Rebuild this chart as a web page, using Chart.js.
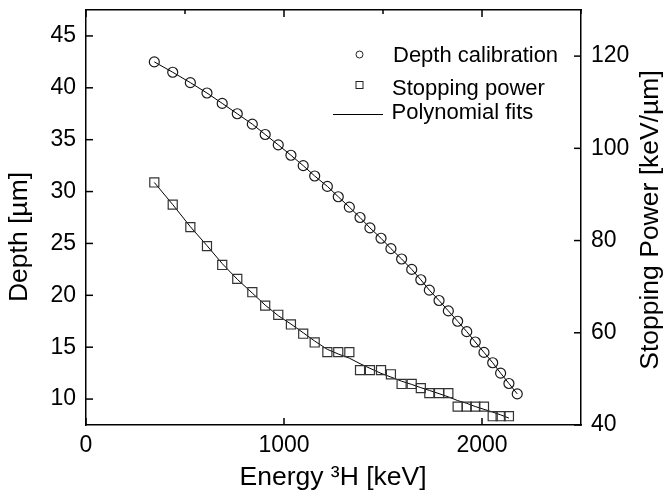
<!DOCTYPE html>
<html>
<head>
<meta charset="utf-8">
<script src="https://cdn.jsdelivr.net/npm/chart.js@4.4.1/dist/chart.umd.min.js"></script>
<style>
  html, body { margin: 0; padding: 0; background: #fff; }
  canvas { display: block; }
</style>
</head>
<body>
<canvas id="chart" width="668" height="493"></canvas>
<script>
// Depth calibration (left axis)
const energy = [345, 438, 527, 611, 688, 764, 840, 905, 971, 1035, 1097, 1155, 1219, 1274, 1330, 1384, 1434,
                1490, 1540, 1594, 1645, 1691, 1734, 1783, 1830, 1877, 1923, 1966, 2010, 2054, 2094, 2136, 2178];
const depth = [42.5, 41.5, 40.5, 39.5, 38.5, 37.5, 36.5, 35.5, 34.5, 33.5, 32.5, 31.5, 30.5, 29.5, 28.5, 27.5, 26.5,
               25.5, 24.5, 23.5, 22.5, 21.5, 20.5, 19.5, 18.5, 17.5, 16.5, 15.5, 14.5, 13.5, 12.5, 11.5, 10.5];

// Stopping power (right axis)
const spEnergy = [345, 438, 527, 611, 688, 764, 840, 905, 971, 1035, 1097, 1155, 1219, 1274, 1330, 1384,
                  1434, 1490, 1540, 1594, 1645, 1691, 1734, 1783, 1830, 1877, 1923, 1966, 2010, 2054, 2094, 2136];
const stopping = [92.6, 87.8, 82.9, 78.8, 74.7, 71.7, 68.8, 65.9, 63.9, 61.8, 59.8, 57.9, 55.8, 55.8, 55.8, 51.9,
                  51.9, 51.9, 51.0, 48.9, 48.9, 48.0, 46.9, 46.9, 46.9, 44.0, 44.0, 44.0, 44.0, 41.9, 41.9, 41.9];
const stoppingFit = [92.6, 87.8, 83.0, 78.9, 75.0, 71.6, 68.6, 66.0, 63.7, 61.9, 60.0, 58.2, 56.4, 55.4, 54.5, 53.3,
                     52.3, 51.2, 50.4, 49.5, 48.8, 48.1, 47.5, 46.8, 46.1, 45.3, 44.7, 44.0, 43.4, 42.8, 42.2, 41.5];

const legendLabels = ['Depth calibration', 'Stopping power', 'Polynomial fits'];
const xTitle = 'Energy \u00B3H [keV]';
const yTitle = 'Depth [\u00B5m]';
const y2Title = 'Stopping Power [keV/\u00B5m]';

// major (labelled) step per axis, minor ticks come from stepSize
const majorStep = { x: 1000, x2: 1000, y: 5, y2: 20 };

const pts = (xs, ys) => xs.map((x, i) => ({ x: x, y: ys[i] }));
const isMajor = (id, v) => Math.abs(v / majorStep[id] - Math.round(v / majorStep[id])) < 1e-6;
const FONT = '"Liberation Sans", Arial, sans-serif';

// fix the box sizes so the plot area lands where it is in the original figure
const fixBox = (w, h) => s => {
  if (w !== null) s.width = w;
  if (h !== null) s.height = h;
  s.paddingTop = 0; s.paddingBottom = 0; s.paddingLeft = 0; s.paddingRight = 0;
};

const innerTicks = {
  id: 'innerTicks',
  afterDraw(chart) {
    const ctx = chart.ctx, a = chart.chartArea;
    ctx.save();
    ctx.strokeStyle = '#000';
    ctx.lineWidth = 1.5;
    for (const id of ['x', 'x2', 'y', 'y2']) {
      const s = chart.scales[id];
      s.ticks.forEach(t => {
        const p = s.getPixelForValue(t.value);
        const len = isMajor(id, t.value) ? 7 : 4;
        ctx.beginPath();
        if (id === 'x') { ctx.moveTo(p, a.bottom); ctx.lineTo(p, a.bottom - len); }
        if (id === 'x2') { ctx.moveTo(p, a.top); ctx.lineTo(p, a.top + len); }
        if (id === 'y') { ctx.moveTo(a.left, p); ctx.lineTo(a.left + len, p); }
        if (id === 'y2') { ctx.moveTo(a.right, p); ctx.lineTo(a.right - len, p); }
        ctx.stroke();
      });
    }
    ctx.restore();
  }
};

const titlesAndLegend = {
  id: 'titlesAndLegend',
  afterDraw(chart) {
    const ctx = chart.ctx;
    ctx.save();
    ctx.fillStyle = '#000';
    ctx.textBaseline = 'alphabetic';

    // axis titles
    ctx.font = '26.5px ' + FONT;
    ctx.textAlign = 'center';
    ctx.fillText(xTitle, 333, 485);

    ctx.save();
    ctx.translate(27, 237);
    ctx.rotate(-Math.PI / 2);
    ctx.fillText(yTitle, 0, 0);
    ctx.restore();

    ctx.save();
    ctx.translate(658, 220);
    ctx.rotate(-Math.PI / 2);
    ctx.fillText(y2Title, 0, 0);
    ctx.restore();

    // legend
    ctx.strokeStyle = '#222';
    ctx.lineWidth = 1;
    ctx.beginPath();
    ctx.arc(359.5, 54.5, 3.5, 0, Math.PI * 2);
    ctx.stroke();
    ctx.strokeRect(356, 81.5, 7, 7);
    ctx.strokeStyle = '#000';
    ctx.beginPath();
    ctx.moveTo(333, 114.5);
    ctx.lineTo(383, 114.5);
    ctx.stroke();

    ctx.font = '22px ' + FONT;
    ctx.textAlign = 'left';
    ctx.fillText(legendLabels[0], 393, 62);
    ctx.fillText(legendLabels[1], 392, 94.5);
    ctx.fillText(legendLabels[2], 391.5, 118.5);
    ctx.restore();
  }
};

const tickFont = { family: FONT, size: 23 };

new Chart(document.getElementById('chart'), {
  type: 'scatter',
  data: {
    datasets: [
      {
        label: legendLabels[0],
        data: pts(energy, depth),
        yAxisID: 'y',
        pointStyle: 'circle',
        pointRadius: 5,
        borderColor: '#1a1a1a',
        backgroundColor: 'rgba(0,0,0,0)',
        borderWidth: 1.2
      },
      {
        label: legendLabels[1],
        data: pts(spEnergy, stopping),
        yAxisID: 'y2',
        pointStyle: 'rect',
        pointRadius: 6.4,
        borderColor: '#333',
        backgroundColor: 'rgba(0,0,0,0)',
        borderWidth: 1.2
      },
      {
        label: legendLabels[2],
        data: pts(energy, depth),
        yAxisID: 'y',
        showLine: true,
        pointRadius: 0,
        borderColor: '#000',
        borderWidth: 1
      },
      {
        label: legendLabels[2],
        data: pts(spEnergy, stoppingFit),
        yAxisID: 'y2',
        showLine: true,
        pointRadius: 0,
        borderColor: '#000',
        borderWidth: 1
      }
    ]
  },
  options: {
    responsive: false,
    animation: false,
    layout: { padding: 0 },
    plugins: {
      legend: { display: false },
      tooltip: { enabled: false }
    },
    scales: {
      x: {
        type: 'linear', position: 'bottom', min: 0, max: 2500,
        afterFit: fixBox(null, 68),
        grid: { display: false, drawTicks: false },
        border: { display: true, color: '#000', width: 1.5 },
        ticks: {
          stepSize: 500, autoSkip: false, maxRotation: 0, padding: 7,
          color: '#000', font: tickFont,
          callback: v => isMajor('x', v) ? String(v) : null
        }
      },
      x2: {
        type: 'linear', position: 'top', min: 0, max: 2500,
        afterFit: fixBox(null, 10),
        grid: { display: false, drawTicks: false },
        border: { display: true, color: '#000', width: 1.5 },
        ticks: { stepSize: 500, display: false }
      },
      y: {
        type: 'linear', position: 'left', min: 7.5, max: 47.5,
        afterFit: fixBox(86, null),
        grid: { display: false, drawTicks: false },
        border: { display: true, color: '#000', width: 1.5 },
        ticks: {
          stepSize: 2.5, autoSkip: false, padding: 10,
          color: '#000', font: tickFont,
          callback: v => isMajor('y', v) ? String(v) : null
        }
      },
      y2: {
        type: 'linear', position: 'right', min: 40, max: 130,
        afterFit: fixBox(87, null),
        grid: { display: false, drawTicks: false },
        border: { display: true, color: '#000', width: 1.5 },
        ticks: {
          stepSize: 10, autoSkip: false, padding: 10,
          color: '#000', font: tickFont,
          callback: v => isMajor('y2', v) ? String(v) : null
        }
      }
    }
  },
  plugins: [innerTicks, titlesAndLegend]
});
</script>
</body>
</html>
